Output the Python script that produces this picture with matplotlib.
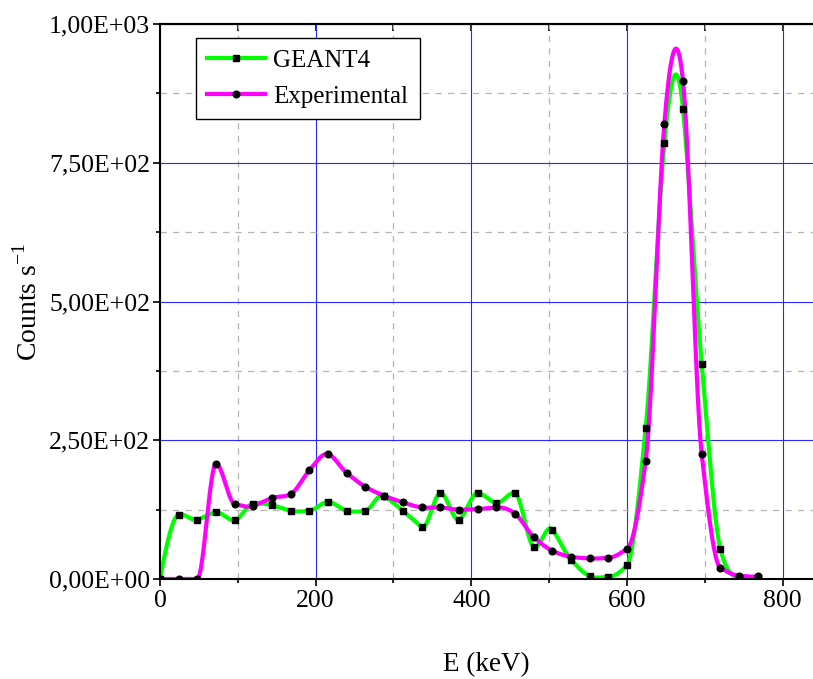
import numpy as np
import matplotlib
matplotlib.use("Agg")
import matplotlib.pyplot as plt
from matplotlib.ticker import MultipleLocator, FuncFormatter
from matplotlib.lines import Line2D

plt.rcParams['font.family'] = ['Liberation Serif', 'DejaVu Serif']
plt.rcParams['mathtext.fontset'] = 'custom'
plt.rcParams['mathtext.rm'] = 'Liberation Serif'

# Data (energy in keV, counts per second)
energy = [0, 24, 48, 72, 96, 120, 144, 168, 192, 216, 240, 264, 288, 312, 336,
          360, 384, 408, 432, 456, 480, 504, 528, 552, 576, 600, 624, 648, 672,
          696, 720, 744, 768]
geant4 = [0, 116, 107, 120, 106, 136, 133, 123, 123, 139, 123, 123, 150, 123, 94,
          155, 107, 155, 137, 155, 58, 89, 35, 5, 4, 25, 272, 785, 846, 388, 54, 2, 1]
experimental = [0, 0, 0, 208, 135, 132, 146, 153, 196, 225, 191, 166, 150, 138, 129,
                129, 125, 126, 129, 118, 76, 51, 40, 37, 38, 54, 212, 820, 897, 225,
                20, 6, 5]


def akima(x, y, xs):
    x = np.asarray(x, float)
    y = np.asarray(y, float)
    n = len(x)
    h = np.diff(x)
    m = np.diff(y) / h
    mm = np.empty(n + 3)
    mm[2:n + 1] = m
    mm[1] = 2 * mm[2] - mm[3]
    mm[0] = 2 * mm[1] - mm[2]
    mm[n + 1] = 2 * mm[n] - mm[n - 1]
    mm[n + 2] = 2 * mm[n + 1] - mm[n]
    t = np.empty(n)
    for i in range(n):
        m_2, m_1, m0, m1 = mm[i], mm[i + 1], mm[i + 2], mm[i + 3]
        w1 = abs(m1 - m0)
        w2 = abs(m_1 - m_2)
        if w1 + w2 < 1e-12:
            t[i] = 0.5 * (m_1 + m0)
        else:
            t[i] = (w1 * m_1 + w2 * m0) / (w1 + w2)
    idx = np.clip(np.searchsorted(x, xs) - 1, 0, n - 2)
    hh = h[idx]
    s = (xs - x[idx]) / hh
    h00 = 2 * s ** 3 - 3 * s ** 2 + 1
    h10 = s ** 3 - 2 * s ** 2 + s
    h01 = -2 * s ** 3 + 3 * s ** 2
    h11 = s ** 3 - s ** 2
    return (h00 * y[idx] + h10 * hh * t[idx] + h01 * y[idx + 1]
            + h11 * hh * t[idx + 1])


fig = plt.figure(figsize=(8.13, 6.79), dpi=100)
ax = fig.add_axes([160 / 813, 1 - 579 / 679, 1 - 160 / 813, (579 - 24) / 679])

xs = np.linspace(energy[0], energy[-1], 2500)
green = '#00ff00'
magenta = '#ff00ff'
ax.plot(xs, akima(energy, geant4, xs), color=green, lw=3.0, zorder=3,
        solid_capstyle='round')
ax.plot(energy, geant4, ls='none', marker='s', ms=4.3, color='black', zorder=5)
ax.plot(xs, akima(energy, experimental, xs), color=magenta, lw=3.0, zorder=4,
        solid_capstyle='round')
ax.plot(energy, experimental, ls='none', marker='o', ms=4.8, color='black', zorder=6)

ax.set_xlim(0, 839)
ax.set_ylim(0, 1000)
ax.xaxis.set_major_locator(MultipleLocator(200))
ax.xaxis.set_minor_locator(MultipleLocator(100))
ax.yaxis.set_major_locator(MultipleLocator(250))
ax.yaxis.set_minor_locator(MultipleLocator(125))
ax.yaxis.set_major_formatter(FuncFormatter(lambda v, p: f"{v:.2E}".replace('.', ',')))

ax.grid(which='major', color='#2a2aff', lw=0.8, ls='-', zorder=1)
ax.grid(which='minor', color='#b4b4b4', lw=0.9, ls=(0, (5, 5)), zorder=1)

ax.spines['right'].set_visible(False)
for s in ['left', 'bottom', 'top']:
    ax.spines[s].set_linewidth(1.5)
    ax.spines[s].set_zorder(7)
ax.tick_params(axis='both', which='major', direction='out', length=5, width=1.2,
               labelsize=18.5, pad=2)
ax.tick_params(axis='both', which='minor', direction='out', length=3, width=1.2)
ax.tick_params(axis='x', which='both', top=False)
ax.tick_params(axis='y', which='both', right=False)
ax.tick_params(axis='x', which='major', pad=3)

ax.set_xlabel('E (keV)', fontsize=19.5, labelpad=29)
ax.set_ylabel(r'Counts s$^{\mathregular{-1}}$', fontsize=20, labelpad=5)

# inward ticks at top
sec = ax.secondary_xaxis('top')
sec.xaxis.set_major_locator(MultipleLocator(200))
sec.xaxis.set_minor_locator(MultipleLocator(100))
sec.tick_params(which='major', direction='in', length=5, width=1.2, labeltop=False)
sec.tick_params(which='minor', direction='in', length=5, width=1.2)
sec.spines['top'].set_linewidth(1.5)

handles = [Line2D([], [], color=green, lw=3.0, marker='s', ms=4.3, mfc='black', mec='black'),
           Line2D([], [], color=magenta, lw=3.0, marker='o', ms=4.8, mfc='black', mec='black')]
leg = ax.legend(handles, ['GEANT4', 'Experimental'], loc='upper left',
                bbox_to_anchor=(36 / 653, 541 / 555), borderaxespad=0, fontsize=18,
                frameon=True, fancybox=False, edgecolor='black', framealpha=1,
                numpoints=1, handlelength=2.3, borderpad=0.45, labelspacing=0.55,
                handletextpad=0.35)
leg.get_frame().set_linewidth(1.0)

fig.savefig('out.png', dpi=100)
